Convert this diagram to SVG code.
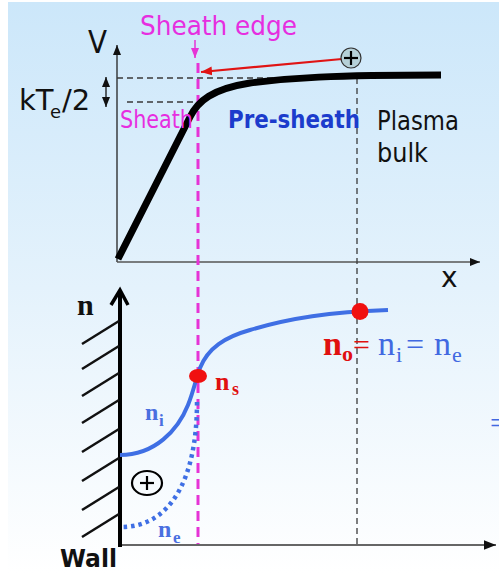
<svg xmlns="http://www.w3.org/2000/svg" width="499" height="573" viewBox="0 0 499 573">
<defs>
<linearGradient id="bg" x1="0" y1="0" x2="0" y2="1">
<stop offset="0" stop-color="#cce7fa"/>
<stop offset="0.5" stop-color="#e4f2fc"/>
<stop offset="1" stop-color="#ffffff"/>
</linearGradient>
<marker id="ax" viewBox="0 0 10 10" refX="10" refY="5" markerWidth="10" markerHeight="10" markerUnits="userSpaceOnUse" orient="auto"><path d="M0,1 L10,5 L0,9 z" fill="#111"/></marker>
<marker id="ax2" viewBox="0 0 10 10" refX="10" refY="5" markerWidth="12" markerHeight="12" markerUnits="userSpaceOnUse" orient="auto"><path d="M0,1 L10,5 L0,9 z" fill="#111"/></marker>
<marker id="pk" viewBox="0 0 10 10" refX="10" refY="5" markerWidth="10" markerHeight="10" markerUnits="userSpaceOnUse" orient="auto"><path d="M0,1 L10,5 L0,9 z" fill="#e633d6"/></marker>
<marker id="rd" viewBox="0 0 10 10" refX="10" refY="5" markerWidth="11" markerHeight="11" markerUnits="userSpaceOnUse" orient="auto"><path d="M0,1 L10,5 L0,9 z" fill="#e01414"/></marker>
</defs>
<style>
.cs{font-family:"DejaVu Sans","Liberation Sans",sans-serif}
.sf{font-family:"Liberation Serif","DejaVu Serif",serif}
.dash{stroke:#3a3a3a;stroke-width:1.3;stroke-dasharray:6,4;fill:none}
.blue{fill:#4169e1}
.red{fill:#e01010}
</style>
<rect x="0" y="0" width="499" height="573" fill="#ffffff"/>
<rect x="8" y="2" width="491" height="571" fill="url(#bg)"/>

<g id="connectors">
<line x1="117" y1="262" x2="117" y2="45" stroke="#222" stroke-width="1.3" marker-end="url(#ax)"/>
<line x1="117" y1="262" x2="480" y2="262" stroke="#555" stroke-width="1.5" marker-end="url(#ax)"/>
<path class="dash" d="M117,78 H357 V545"/>
<path class="dash" d="M127,102 H196"/>
<line x1="106" y1="92" x2="106" y2="77" stroke="#111" stroke-width="1.3" marker-end="url(#ax)"/>
<line x1="106" y1="92" x2="106" y2="107" stroke="#111" stroke-width="1.3" marker-end="url(#ax)"/>
<line x1="195" y1="40" x2="195" y2="58" stroke="#e633d6" stroke-width="1.5" marker-end="url(#pk)"/>
<line x1="198" y1="63" x2="198" y2="545" stroke="#e633d6" stroke-width="3" stroke-dasharray="10,6"/>
<line x1="342" y1="59" x2="201" y2="72" stroke="#e01414" stroke-width="2.2" marker-end="url(#rd)"/>
<path d="M118,259 L190,117 C198,101 212,89 250,83 C290,78 330,75 441,75" fill="none" stroke="#000" stroke-width="7"/>
<line x1="120" y1="545" x2="496" y2="545" stroke="#666" stroke-width="2" marker-end="url(#ax2)"/>
<line x1="120" y1="547" x2="120" y2="290" stroke="#000" stroke-width="4"/>
<path d="M111,305 L120,290 L128,305" fill="none" stroke="#000" stroke-width="3.5"/>
<path d="M120,455 C155,455 178,430 188,405 C194,390 196,378 200,368 C208,348 225,337 250,330 C290,318 330,312 388,310" fill="none" stroke="#3f6fe4" stroke-width="4"/>
<path d="M197,402 C197,480 170,527 121,527" fill="none" stroke="#3f6fe4" stroke-width="4.5" stroke-dasharray="3.5,4"/>
</g>

<g id="wall-hatch" stroke="#111" stroke-width="2.5">
<line x1="82" y1="344" x2="119" y2="321"/>
<line x1="82" y1="369" x2="119" y2="346"/>
<line x1="82" y1="396" x2="119" y2="373"/>
<line x1="82" y1="423" x2="119" y2="400"/>
<line x1="82" y1="452" x2="119" y2="429"/>
<line x1="82" y1="481" x2="119" y2="458"/>
<line x1="82" y1="510" x2="119" y2="487"/>
<line x1="82" y1="537" x2="119" y2="514"/>
</g>

<g id="ion-top">
<circle cx="351" cy="58" r="10" fill="#b5d0d8" stroke="#333" stroke-width="1.2"/>
<line x1="344" y1="58" x2="358" y2="58" stroke="#000" stroke-width="2.2"/>
<line x1="351" y1="51" x2="351" y2="65" stroke="#000" stroke-width="2.2"/>
</g>
<g id="ion-bottom">
<ellipse cx="147" cy="483" rx="15" ry="12" fill="none" stroke="#000" stroke-width="2.2"/>
<line x1="140" y1="483" x2="154" y2="483" stroke="#000" stroke-width="2.2"/>
<line x1="147" y1="476" x2="147" y2="490" stroke="#000" stroke-width="2.2"/>
</g>
<g id="dot-ns"><ellipse cx="198" cy="376" rx="9" ry="7" fill="#f01010"/></g>
<g id="dot-no"><circle cx="360" cy="311.5" r="8.5" fill="#f01010"/></g>

<g id="labels-top">
<text class="cs" x="140" y="35" font-size="27" fill="#e62ee0" textLength="157" lengthAdjust="spacingAndGlyphs">Sheath edge</text>
<text class="cs" x="88" y="53" font-size="32" fill="#111" textLength="19" lengthAdjust="spacingAndGlyphs">V</text>
<text class="cs" font-size="29" fill="#111"><tspan x="19" y="110">kT</tspan><tspan x="50" y="118" font-size="18">e</tspan><tspan x="62" y="110">/2</tspan></text>
<text class="cs" x="120" y="128" font-size="24" fill="#e62ee0" textLength="73" lengthAdjust="spacingAndGlyphs">Sheath</text>
<text class="cs" x="228" y="128" font-size="24" font-weight="bold" fill="#1c3ccc" textLength="132" lengthAdjust="spacingAndGlyphs">Pre-sheath</text>
<text class="cs" x="377" y="130" font-size="27" fill="#111" textLength="82" lengthAdjust="spacingAndGlyphs">Plasma</text>
<text class="cs" x="377" y="162" font-size="27" fill="#111" textLength="51" lengthAdjust="spacingAndGlyphs">bulk</text>
<text class="cs" x="441" y="287" font-size="28" fill="#111">x</text>
</g>

<g id="labels-bottom">
<text class="sf" x="77" y="315" font-size="30" font-weight="bold" fill="#111">n</text>
<text class="sf" font-weight="bold" fill="#4a6fe0"><tspan x="145" y="420" font-size="24">n</tspan><tspan x="159" y="426" font-size="17">i</tspan></text>
<text class="sf red" font-weight="bold"><tspan x="215" y="390" font-size="26">n</tspan><tspan x="232" y="395" font-size="18">s</tspan></text>
<text class="sf" font-weight="bold" fill="#4a6fe0"><tspan x="158" y="537" font-size="24">n</tspan><tspan x="173" y="543" font-size="17">e</tspan></text>
<text class="cs" x="60" y="567" font-size="25" font-weight="bold" fill="#111" textLength="57" lengthAdjust="spacingAndGlyphs">Wall</text>
<text class="sf"><tspan class="red" x="323" y="355" font-size="34" font-weight="bold">n</tspan><tspan class="red" x="342" y="361" font-size="22" font-weight="bold">o</tspan><tspan class="red" x="353" y="355" font-size="30">=</tspan><tspan class="blue" x="378" y="355" font-size="34">n</tspan><tspan class="blue" x="396" y="362" font-size="22">i</tspan><tspan class="blue" x="406" y="355" font-size="32">=</tspan><tspan class="blue" x="434" y="355" font-size="34">n</tspan><tspan class="blue" x="452" y="362" font-size="22">e</tspan></text>
<text class="sf blue" x="490" y="433" font-size="30">=</text>
</g>
</svg>
